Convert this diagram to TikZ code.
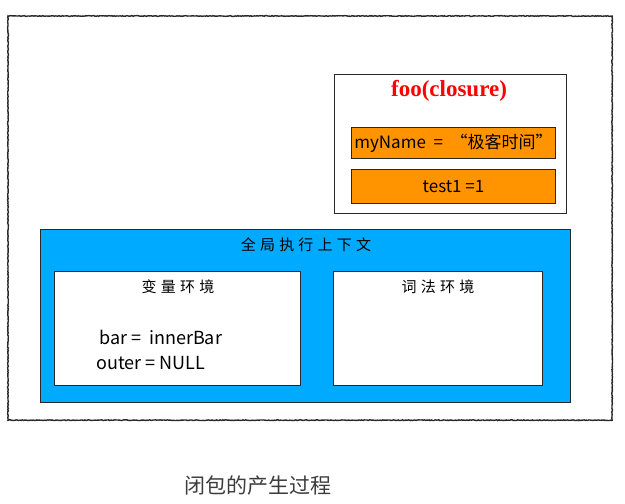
\documentclass[tikz,border=0pt]{standalone}
\usepackage{fontspec}
\setmainfont{Noto Sans CJK SC}
\newfontfamily\serifbold{Liberation Serif}
\newfontfamily\spacedcjk[LetterSpace=28]{Noto Sans CJK SC}
\usetikzlibrary{decorations.pathmorphing}
\definecolor{orangefill}{RGB}{255,148,0}
\definecolor{bluefill}{RGB}{0,170,255}
\definecolor{edgegray}{RGB}{40,40,40}
\definecolor{captiongray}{RGB}{60,60,60}
\tikzset{
  box/.style={draw=edgegray, line width=1.2pt, anchor=north west, inner sep=0pt},
  orangebox/.style={box, fill=orangefill, line width=1pt},
  whitebox/.style={box, fill=white},
  label/.style={inner sep=0pt, font=\fontsize{17}{19}\selectfont},
  cjklabel/.style={inner sep=0pt, font=\spacedcjk\fontsize{15}{17}\selectfont},
  sketchy/.style={draw=edgegray, line width=1.4pt, decorate,
    decoration={random steps, segment length=1.2pt, amplitude=0.35pt}}
}
\begin{document}
\begin{tikzpicture}[x=1pt,y=-1pt]
\useasboundingbox (0,0) rectangle (625,504);
% outer sketchy frame
\node[box, draw=none, minimum width=603pt, minimum height=403pt] (outer) at (8,16) {};
\draw[sketchy] (outer.north west) rectangle (outer.south east);
% foo closure
\node[whitebox, minimum width=232pt, minimum height=139pt] (foo) at (334,74) {};
\node[inner sep=0pt, text=red, font=\serifbold\bfseries\fontsize{23}{25}\selectfont] (footitle) at (449,91) {foo(closure)};
\node[orangebox, minimum width=204pt, minimum height=31pt] (myname) at (351,127) {};
\node[label] (mynametext) at (myname.center) {myName\ \ =\ \ “极客时间”};
\node[orangebox, minimum width=204pt, minimum height=34pt] (test) at (351,169) {};
\node[label] (testtext) at (test.center) {test1 =1};
% global context
\node[box, fill=bluefill, minimum width=530pt, minimum height=173pt] (global) at (40,229) {};
\node[cjklabel] (globaltitle) at (306,245) {全局执行上下文};
\node[whitebox, minimum width=246pt, minimum height=114pt] (varenv) at (54,271) {};
\node[cjklabel] (vartitle) at (178,287) {变量环境};
\node[label, font=\fontsize{18}{20}\selectfont, anchor=west] (bar) at (99,337) {bar =\ \ innerBar};
\node[label, font=\fontsize{18}{20}\selectfont, anchor=west] (outerval) at (96,363) {outer = NULL};
\node[whitebox, minimum width=209pt, minimum height=114pt] (lexenv) at (333,271) {};
\node[cjklabel] (lextitle) at (438,287) {词法环境};
% caption
\node[inner sep=0pt, text=captiongray, font=\fontsize{21}{23}\selectfont] (caption) at (258,486) {闭包的产生过程};
\end{tikzpicture}
\end{document}
